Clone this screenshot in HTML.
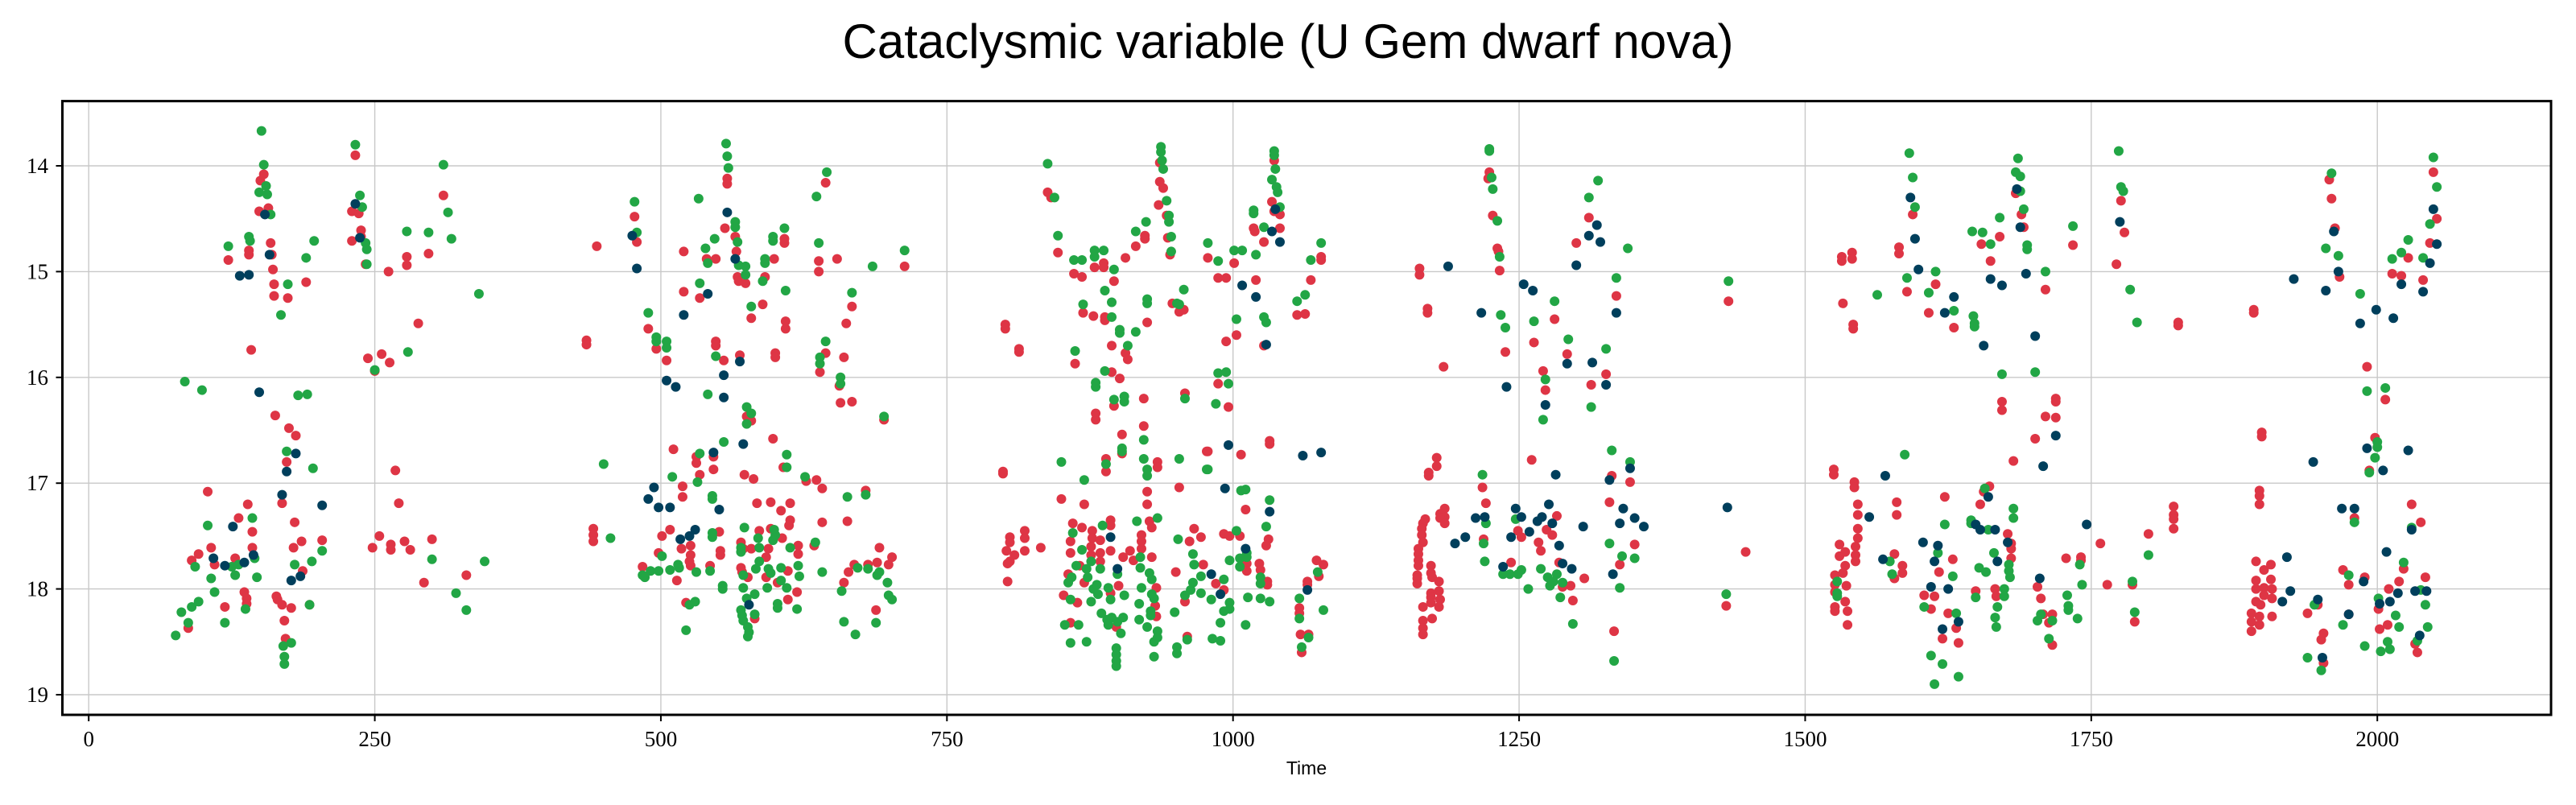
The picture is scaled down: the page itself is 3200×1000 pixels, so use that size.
<!DOCTYPE html>
<html><head><meta charset="utf-8">
<style>
html,body{margin:0;padding:0;background:#fff;}
svg{display:block;}
</style></head>
<body>
<svg id="chart" width="3200" height="1000" xmlns="http://www.w3.org/2000/svg">
<text x="1600" y="72" text-anchor="middle" font-family="Liberation Sans, sans-serif" font-size="60">Cataclysmic variable (U Gem dwarf nova)</text>
<g id="grid"></g>
<g id="marks"></g>
<rect x="77.5" y="125.6" width="3091.5" height="762.4" fill="none" stroke="#000" stroke-width="3"/>
<g id="axes"></g>
<text x="1623" y="962" text-anchor="middle" font-family="Liberation Sans, sans-serif" font-size="23">Time</text>
</svg>
<script>
const xTicks = [0,250,500,750,1000,1250,1500,1750,2000];
const xTickLabels = ["0","250","500","750","1000","1250","1500","1750","2000"];
const yTicks = [14,15,16,17,18,19];
const yTickLabels = ["14","15","16","17","18","19"];
const redPoints = [[90,17.73],[87,18.37],[96,17.67],[104,17.08],[107,17.61],[110,17.77],[119,18.17],[122,14.89],[128,17.71],[131,17.33],[136,18.03],[138,18.09],[138,18.14],[139,17.2],[140,14.8],[140,14.84],[142,15.74],[143,17.46],[143,17.61],[150,14.14],[149,14.43],[153,14.08],[157,14.4],[159,14.73],[160,14.84],[161,14.98],[162,15.12],[162,15.23],[163,16.36],[164,18.07],[165,18.1],[169,18.15],[169,17.19],[171,18.3],[172,18.47],[173,16.8],[174,15.25],[175,16.48],[177,18.18],[179,17.61],[180,17.37],[181,16.55],[186,17.55],[187,17.83],[190,15.1],[193,18.15],[204,17.54],[230,14.43],[233,13.9],[230,14.71],[236,14.45],[238,14.61],[238,14.67],[242,14.93],[244,15.82],[250,15.94],[254,17.5],[256,15.78],[248,17.61],[262,15.0],[263,15.86],[264,17.58],[264,17.63],[268,16.88],[271,17.19],[276,17.55],[278,14.86],[278,14.94],[281,17.63],[288,15.49],[293,17.94],[297,14.83],[300,17.53],[310,14.28],[330,17.87],
[435,15.65],[435,15.69],[441,17.43],[441,17.49],[441,17.55],[444,14.76],[477,14.48],[479,14.72],[484,17.79],
[489,15.54],[496,15.73],[505,15.84],[520,14.81],[520,15.19],[534,15.25],[540,14.88],[548,14.88],[548,15.66],[548,15.7],[556,14.59],[558,14.12],[558,14.17],[565,14.67],[566,14.81],[567,15.05],[568,15.09],[574,15.11],[579,15.44],[555,15.84],[569,15.79],[575,16.37],[579,16.41],[591,15.05],[589,15.31],[599,14.88],[608,14.69],[608,14.73],[609,15.47],[609,15.54],[600,15.77],[600,15.81],[644,14.16],[638,14.9],[638,15.0],[654,14.88],[667,15.33],[662,15.49],[644,15.77],[639,15.95],[660,15.81],[656,16.08],[657,16.24],[667,16.23],[713,14.95],[695,16.4],
[511,16.68],[531,16.75],[531,16.81],[546,16.75],[546,16.87],[598,16.58],[607,16.85],[573,16.92],[581,16.96],[519,17.03],[519,17.13],[534,16.92],[627,16.98],[636,16.97],[641,17.05],[679,17.07],[584,17.19],[596,17.18],[605,17.26],[613,17.19],[613,17.35],[612,17.4],[586,17.45],[596,17.43],[606,17.52],[641,17.37],[663,17.36],[508,17.44],[501,17.5],[551,17.46],[518,17.62],[526,17.59],[526,17.68],[525,17.74],[526,17.78],[552,17.64],[552,17.68],[498,17.66],[514,17.92],[543,17.78],[570,17.56],[572,17.62],[579,17.62],[594,17.62],[592,17.7],[592,17.89],[620,17.59],[620,17.67],[634,17.59],[611,17.83],[602,17.94],[576,17.89],[570,17.8],[571,17.84],[619,18.03],[660,17.94],[664,17.84],[669,17.77],[681,17.77],[689,17.75],[699,17.77],[702,17.7],[691,17.61],[522,18.13],[582,18.28],[611,18.1],[688,18.2],
[801,15.5],[801,15.54],[813,15.73],[813,15.76],[847,14.82],[838,14.25],[841,14.3],[861,15.02],[868,15.05],[879,14.96],[887,14.92],[887,14.96],[896,15.09],[869,15.39],[878,15.42],[888,15.43],[888,15.46],[894,15.7],[906,15.77],[908,15.83],[862,15.87],[894,15.95],[901,16.01],[880,16.34],[880,16.4],[896,16.27],[922,16.2],[922,16.46],[903,16.54],[903,16.72],[889,16.77],[889,16.89],[799,16.89],[799,16.91],[934,16.8],[934,16.85],[953,17.04],[850,17.15],[870,17.2],[925,17.08],[925,17.2],[915,14.76],[923,14.66],[923,14.69],[925,15.48],[906,14.87],[936,13.97],[936,14.15],[939,14.21],[935,14.37],[942,14.47],[943,14.68],[945,14.84],[947,15.3],[953,15.38],[957,15.36],[978,14.87],[958,16.15],[977,16.7],
[805,17.51],[805,17.56],[802,17.64],[809,17.68],[805,17.74],[803,17.76],[818,17.45],[818,17.52],[818,17.64],[832,17.61],[803,17.93],[860,17.38],[868,17.42],[858,17.55],[858,17.66],[877,17.45],[877,17.52],[876,17.6],[876,17.68],[884,17.54],[893,17.35],[893,17.4],[893,17.64],[884,17.66],[884,17.74],[866,17.78],[856,17.86],[870,17.94],[852,18.06],[864,18.13],[900,17.97],[893,18.04],[910,17.64],[904,17.7],[913,17.73],[920,17.62],[920,17.49],[920,17.55],[927,17.36],[929,17.42],[929,17.7],[933,17.99],[932,18.16],[933,18.26],[898,18.36],[858,18.32],[950,17.84],[966,17.43],[962,17.55],[972,17.51],[974,17.77],[958,18.12],[960,18.45],
[987,15.06],[994,15.06],[1001,14.92],[1020,15.08],[1018,14.59],[1019,14.62],[1027,14.72],[1041,14.59],[1041,14.46],[1034,14.34],[1036,14.43],[1036,13.95],[1027,15.7],[1003,15.6],[994,15.66],[987,16.06],[996,16.28],[978,16.7],[1007,16.73],[1032,16.6],[1032,16.63],[1056,15.41],[1063,15.4],[1068,15.08],[1077,14.86],[1077,14.89],
[1011,17.25],[1031,17.53],[1029,17.59],[992,17.48],[997,17.5],[1006,17.5],[1012,17.76],[1012,17.83],[1023,17.76],[1024,17.82],[1030,17.93],[1030,17.96],[985,17.95],[992,18.01],[1065,17.93],[1065,17.96],[1058,18.18],[1058,18.23],[1059,18.43],[1066,18.43],[1060,18.6],[1073,17.73],[1079,17.77],[1075,17.88],
[1163,14.97],[1163,15.03],[1170,15.35],[1170,15.39],[1184,15.9],[1224,14.06],[1223,14.12],[1227,14.47],[1231,14.78],[1232,14.81],[1233,14.99],[1238,15.76],[1263,15.67],[1271,15.94],[1273,16.12],[1281,15.45],[1292,15.78],[1300,14.73],[1311,14.49],[1335,15.23],[1326,15.97],[1313,16.07],[1433,15.28],
[1261,16.78],[1331,16.93],[1347,16.99],[1329,17.18],[1351,17.58],[1338,17.77],[1333,18.4],[1431,18.16],[1448,17.65],[1218,17.04],[1221,17.19],[1219,17.53],[1249,17.45],[1252,17.51],[1243,17.75],[1274,17.44],[1279,17.49],[1283,17.31],[1267,17.56],[1269,17.64],[1285,17.75],[1288,17.98],[1295,17.97],[1297,18.11],[1307,17.9],
[1178,16.76],[1178,16.84],[1171,16.9],[1171,16.93],[1185,17.24],[1181,17.29],[1185,17.32],[1181,17.33],[1185,17.38],[1168,17.34],[1166,17.38],[1165,17.43],[1165,17.49],[1166,17.56],[1162,17.62],[1162,17.67],[1162,17.73],[1162,17.78],[1161,17.87],[1161,17.9],[1161,17.95],[1173,17.78],[1173,17.85],[1174,17.89],[1180,17.93],[1180,18.02],[1173,18.04],[1173,18.08],[1181,18.1],[1173,18.13],[1180,18.17],[1166,18.17],[1174,18.28],[1166,18.3],[1166,18.37],[1166,18.43],
[1532,14.86],[1532,14.9],[1541,14.82],[1541,14.88],[1533,15.3],[1542,15.5],[1542,15.54],[1594,14.46],[1582,14.77],[1582,14.83],[1589,15.19],[1608,15.39],[1614,15.12],[1630,15.53],[1654,14.74],[1662,14.9],[1670,14.67],[1684,14.26],[1689,14.46],[1691,14.58],[1710,15.17],[1672,16.23],[1672,16.31],[1719,16.2],[1719,16.23],[1710,16.37],[1719,16.38],[1701,16.58],[1682,16.79],[1734,14.75],[1776,14.33],[1779,14.63],[1772,14.93],[1826,15.48],[1826,15.51],[1892,15.36],[1892,15.39],[1958,14.13],[1960,14.31],[1963,14.59],[1967,15.05],[2027,14.87],[2013,15.02],[2021,15.04],[2040,15.08],[2046,14.73],[2052,14.5],[2049,14.06],[1991,15.9],[2007,16.21],[1998,16.57],[1993,16.88],[1899,16.52],[1899,16.56],
[1525,16.87],[1525,16.92],[1543,16.99],[1543,17.04],[1580,17.18],[1580,17.3],[1546,17.2],[1546,17.3],[1546,17.43],[1546,17.52],[1544,17.6],[1544,17.68],[1544,17.74],[1530,17.58],[1530,17.69],[1535,17.65],[1535,17.78],[1533,17.85],[1526,17.87],[1526,17.96],[1536,17.97],[1526,18.03],[1535,18.12],[1526,18.17],[1526,18.21],[1537,18.21],[1537,18.34],[1578,17.67],[1585,17.78],[1585,17.85],[1578,17.9],[1622,17.13],[1629,17.72],[1617,17.84],[1604,18.06],[1613,18.07],[1610,18.19],[1625,18.23],[1632,18.37],[1620,18.47],[1634,18.51],[1653,17.2],[1656,17.08],[1661,17.03],[1649,18.02],[1666,18.0],[1667,18.07],[1677,17.48],[1680,17.57],[1680,17.62],[1680,17.71],[1703,17.98],[1706,18.09],[1708,18.24],[1713,18.32],[1716,18.24],[1716,18.53],[1728,17.71],[1741,17.7],[1741,17.73],[1758,17.57],[1764,17.96],[1786,17.96],[1788,18.31],[1800,17.48],[1822,17.22],[1822,17.3],[1822,17.34],[1822,17.43],
[1897,17.07],[1897,17.12],[1897,17.2],[1894,17.74],[1894,17.92],[1894,18.0],[1894,18.12],[1890,18.23],[1890,18.31],[1890,18.4],[1901,17.82],[1907,17.77],[1907,17.91],[1901,17.99],[1908,18.0],[1901,18.06],[1908,18.09],[1898,18.15],[1897,18.26],[1897,18.34],[1908,18.26],[1939,18.23],[1948,18.15],[1951,18.48],[1953,18.42],[1953,18.7],[1980,17.33],[1970,17.82],[1975,17.96],[1989,17.89],[1975,18.24],[2023,17.81],[2019,17.93],[2010,18.0],[2001,18.19],[2009,18.34],[2002,18.38],[2033,18.52],[2035,18.6],[2042,17.89],[2030,17.2],[2038,17.37]];
const greenPoints = [[76,18.44],[81,18.22],[84,16.04],[87,18.32],[90,18.17],[93,17.79],[96,18.12],[99,16.12],[104,17.4],[107,17.9],[110,18.03],[119,18.32],[122,14.76],[125,17.79],[128,17.87],[131,17.77],[137,18.19],[140,14.67],[141,14.71],[143,17.33],[145,17.71],[147,17.89],[149,14.25],[151,13.67],[153,13.99],[155,14.19],[156,14.27],[159,14.46],[168,15.41],[170,18.54],[171,18.64],[171,18.71],[173,16.7],[174,15.12],[177,18.51],[180,17.77],[183,16.17],[190,14.87],[191,16.16],[193,18.15],[195,17.74],[196,16.86],[197,14.71],[204,17.64],[233,13.8],[237,14.28],[239,14.39],[242,14.73],[243,14.79],[243,14.93],[250,15.93],[279,15.76],[278,14.62],[297,14.63],[300,17.72],[310,13.99],[314,14.44],[317,14.69],[321,18.04],[330,18.2],[341,15.21],[346,17.74],
[450,16.82],[456,17.52],[477,14.34],[479,14.63],[484,17.87],
[489,15.39],[496,15.62],[496,15.66],[505,15.66],[505,15.72],[533,14.31],[534,15.11],[539,14.78],[547,14.69],[541,14.92],[548,15.8],[541,16.16],[557,13.79],[558,13.91],[559,14.02],[565,14.53],[565,14.58],[567,14.72],[568,14.94],[574,14.95],[574,15.03],[579,15.33],[575,16.28],[579,16.34],[575,16.44],[589,15.09],[591,14.88],[591,14.92],[598,14.67],[598,14.71],[608,14.59],[609,15.18],[638,14.73],[636,14.29],[645,14.06],[667,15.2],[644,15.66],[639,15.81],[639,15.87],[657,16.0],[657,16.06],[685,14.95],[713,14.8],[695,16.37],
[534,16.72],[555,16.61],[610,16.73],[610,16.85],[510,16.94],[532,16.99],[545,17.12],[545,17.15],[626,16.94],[663,17.13],[679,17.11],[573,17.42],[599,17.44],[600,17.49],[598,17.54],[585,17.52],[545,17.47],[545,17.51],[501,17.69],[486,17.89],[491,17.83],[498,17.83],[508,17.82],[515,17.77],[516,17.8],[531,17.84],[543,17.83],[570,17.61],[570,17.65],[586,17.61],[586,17.74],[594,17.81],[596,17.85],[613,17.61],[635,17.56],[620,17.78],[621,17.88],[605,17.8],[605,17.92],[583,17.81],[572,17.87],[641,17.84],[554,17.97],[554,18.0],[572,17.99],[593,17.99],[610,17.99],[658,18.02],[672,17.8],[681,17.81],[691,17.84],[689,17.87],[698,17.94],[699,18.06],[702,18.1],[525,18.15],[530,18.12],[582,18.05],[575,18.09],[570,18.2],[571,18.25],[572,18.3],[582,18.24],[602,18.14],[602,18.18],[619,18.19],[522,18.39],[576,18.36],[577,18.41],[576,18.45],[660,18.31],[688,18.32],[670,18.43],
[847,14.66],[838,13.98],[844,14.3],[861,14.89],[868,14.89],[879,14.8],[879,14.86],[887,14.8],[896,14.98],[888,15.18],[894,15.29],[869,15.31],[894,15.43],[901,15.55],[901,15.58],[915,15.57],[908,15.7],[862,15.75],[888,15.94],[880,16.05],[880,16.09],[896,16.21],[905,16.18],[905,16.23],[903,16.67],[903,16.7],[922,16.59],[922,16.77],[925,16.87],[925,16.93],[953,16.77],[850,16.8],[889,16.82],[870,16.97],[915,14.62],[924,14.53],[925,15.26],[925,15.3],[937,13.82],[937,13.87],[938,13.95],[939,14.03],[942,14.33],[944,14.47],[944,14.53],[946,14.67],[946,14.81],[957,15.17],[951,15.3],[953,15.31],[978,14.73],[958,16.2],[977,16.87],
[860,17.47],[868,17.63],[886,17.4],[884,17.81],[876,17.74],[872,17.81],[863,17.78],[859,17.89],[856,17.94],[873,17.89],[878,18.0],[881,17.96],[882,18.05],[876,18.12],[858,18.1],[891,17.99],[899,17.86],[893,18.1],[905,18.06],[916,17.36],[934,17.33],[919,17.7],[919,17.8],[927,17.85],[929,17.91],[920,17.99],[918,18.14],[929,18.05],[931,18.09],[928,18.21],[928,18.25],[885,18.23],[890,18.29],[894,18.27],[899,18.31],[904,18.27],[902,18.42],[891,18.34],[853,18.34],[865,18.34],[858,18.51],[872,18.5],[898,18.56],[898,18.62],[898,18.68],[898,18.73],[918,18.29],[925,18.36],[934,18.4],[934,18.46],[931,18.5],[931,18.64],[952,17.53],[965,17.67],[966,17.77],[972,17.88],[965,17.94],[963,18.01],[972,18.04],[958,18.06],[949,18.22],[951,18.55],[951,18.61],[960,18.48],
[987,14.9],[1001,14.8],[1008,14.8],[1020,14.84],[1018,14.42],[1018,14.45],[1027,14.58],[1041,14.39],[1039,14.25],[1038,14.2],[1034,14.13],[1036,13.86],[1036,13.9],[1037,14.03],[1027,15.43],[1029,15.48],[1003,15.45],[987,15.96],[994,15.95],[996,16.06],[985,16.25],[978,16.87],[1056,15.28],[1063,15.22],[1068,14.89],[1077,14.73],
[1007,17.07],[1011,17.06],[1032,17.16],[1029,17.41],[1003,17.45],[1012,17.66],[1012,17.7],[1006,17.71],[1006,17.79],[1024,17.89],[1024,17.95],[997,17.73],[992,17.91],[981,18.1],[997,18.13],[997,18.19],[992,18.21],[989,18.32],[982,18.47],[989,18.49],[1013,18.08],[1024,18.09],[1032,18.12],[1011,18.34],[1058,18.09],[1058,18.28],[1066,18.46],[1060,18.55],[1074,17.84],[1079,18.2],
[1224,13.84],[1224,13.86],[1226,14.11],[1227,14.22],[1231,14.52],[1233,14.86],[1234,15.41],[1238,15.53],[1263,15.47],[1273,16.02],[1271,16.4],[1281,15.28],[1293,15.64],[1311,14.3],[1319,14.14],[1345,14.78],[1335,15.06],[1326,15.73],[1313,16.28],[1433,15.09],
[1331,16.69],[1347,16.8],[1329,17.57],[1340,17.69],[1351,17.71],[1338,17.99],[1333,18.68],[1431,18.05],[1218,16.92],[1221,17.38],[1219,17.57],[1220,17.74],[1247,17.34],[1236,17.86],[1242,17.86],[1249,17.86],[1252,17.82],[1258,18.0],[1269,17.81],[1275,17.89],[1277,17.97],[1283,17.86],[1280,17.93],[1288,17.94],[1286,18.08],[1297,18.33],
[1563,15.22],[1591,13.88],[1594,14.11],[1596,14.39],[1589,15.06],[1608,15.2],[1614,15.0],[1630,15.37],[1647,15.42],[1648,15.49],[1648,15.52],[1646,14.62],[1655,14.63],[1662,14.74],[1670,14.49],[1684,14.06],[1686,13.93],[1688,14.1],[1688,14.24],[1691,14.41],[1694,14.75],[1694,14.79],[1710,15.0],[1672,15.97],[1701,15.95],[1734,14.57],[1774,13.86],[1776,14.2],[1778,14.24],[1784,15.17],[1790,15.48],[1960,14.07],[1955,14.78],[1966,14.85],[1985,15.21],[2013,14.88],[2021,14.82],[2027,14.7],[2040,14.87],[2046,14.55],[2052,14.2],[2049,13.92],[1991,16.13],[2007,16.1],[2000,16.61],[2000,16.66],[1998,16.76],[1993,16.9],
[1587,16.73],[1528,17.93],[1528,18.04],[1528,18.07],[1574,17.74],[1576,17.86],[1622,17.39],[1616,17.66],[1629,17.88],[1604,18.17],[1632,18.23],[1610,18.63],[1620,18.71],[1634,18.83],[1613,18.9],[1645,17.35],[1645,17.38],[1657,17.05],[1660,17.44],[1665,17.66],[1652,17.8],[1658,17.84],[1649,18.08],[1674,18.0],[1674,18.07],[1668,18.17],[1666,18.27],[1667,18.36],[1678,17.77],[1678,17.83],[1679,17.89],[1682,17.24],[1682,17.33],[1706,18.24],[1703,18.3],[1716,18.3],[1713,18.47],[1740,17.77],[1742,17.96],[1729,18.06],[1730,18.16],[1730,18.2],[1738,18.28],[1786,17.93],[1788,18.22],[1800,17.68],
[1945,18.15],[1939,18.65],[1951,18.77],[1980,17.37],[1975,17.87],[1970,18.34],[1989,18.54],[2023,17.75],[2001,18.09],[2016,18.25],[2019,18.36],[2009,18.5],[2011,18.57],[2003,18.59],[2035,18.49],[2038,18.01],[2042,18.15],[2044,18.36],[2030,17.42]];
const navyPoints = [[109,17.71],[119,17.78],[126,17.41],[132,15.04],[136,17.75],[140,15.03],[144,17.68],[149,16.14],[154,14.46],[158,14.84],[169,17.11],[173,16.89],[177,17.92],[181,16.72],[185,17.88],[204,17.21],[233,14.36],[237,14.68],[475,14.66],[479,14.97],
[505,16.03],[513,16.09],[520,15.41],[541,15.21],[555,15.98],[555,16.19],[558,14.44],[565,14.88],[569,15.85],[546,16.71],[572,16.63],[494,17.04],[489,17.15],[498,17.23],[508,17.23],[551,17.25],[517,17.53],[525,17.5],[530,17.44],[577,18.15],
[893,17.51],[899,17.81],
[1008,15.13],[1020,15.24],[1034,14.62],[1037,14.41],[1041,14.72],[1029,15.69],[996,16.64],[1061,16.74],[1077,16.71],[993,17.05],[1032,17.27],[1011,17.62],[981,17.86],[989,18.05],[1065,18.01],
[1188,14.95],[1217,15.39],[1239,16.09],[1254,15.12],[1262,15.18],[1273,16.26],[1292,15.87],[1300,14.94],[1311,14.66],[1318,14.56],[1321,14.72],[1335,15.39],[1326,16.07],[1314,15.86],[1282,16.92],[1347,16.86],[1329,16.97],[1341,17.24],[1351,17.33],[1359,17.41],[1338,17.38],[1332,17.86],[1432,17.23],[1220,17.32],[1212,17.33],[1203,17.51],[1194,17.57],[1236,17.79],[1247,17.24],[1252,17.32],[1259,17.46],[1243,17.51],[1266,17.36],[1270,17.32],[1276,17.2],[1279,17.38],[1285,17.59],[1288,17.76],[1296,17.81],[1306,17.41],
[1592,14.3],[1596,14.69],[1599,14.98],[1622,15.39],[1630,15.24],[1656,15.7],[1662,15.07],[1672,15.13],[1685,14.22],[1688,14.58],[1693,15.02],[1701,15.61],[1719,16.55],[1708,16.84],[1775,14.53],[1927,15.07],[1962,14.62],[1966,15.0],[1955,15.18],[1985,15.49],[1999,15.36],[2014,15.44],[2021,15.12],[2040,15.19],[2046,14.92],[2052,14.74],[2049,14.41],[1991,16.67],[2005,16.88],[2027,16.69],[1944,16.8],
[1570,16.93],[1556,17.32],[1568,17.72],[1603,17.56],[1616,17.59],[1613,17.74],[1610,17.98],[1625,18.0],[1620,18.38],[1634,18.31],[1649,17.39],[1653,17.44],[1660,17.13],[1666,17.44],[1668,17.74],[1677,17.56],[1705,17.9],[1746,17.39],[1921,17.7],[1924,18.02],[1917,18.12],[1948,18.1],[1952,18.65],[1969,17.24],[1980,17.24],[1988,17.93],[1975,18.24],[2008,17.65],[2018,18.04],[2011,18.12],[2002,18.14],[2037,18.44],[2033,18.02],[2043,18.02],[2030,17.44]];

const NS = "http://www.w3.org/2000/svg";
const X0 = 110.2, XS = 1.4215;
const Y0 = 206, YS = 131.4;
function xScale(t){ return X0 + t*XS; }
function yScale(m){ return Y0 + (m-14)*YS; }
const grid = document.getElementById('grid');
const axes = document.getElementById('axes');
const marks = document.getElementById('marks');

xTicks.forEach((v,i)=>{
  const x = xScale(v);
  const gl = document.createElementNS(NS,'line');
  gl.setAttribute('x1',x); gl.setAttribute('x2',x); gl.setAttribute('y1',125.6); gl.setAttribute('y2',888);
  gl.setAttribute('stroke','#c8c8c8'); gl.setAttribute('stroke-width','1.4');
  
  
  grid.appendChild(gl);
  const tk = document.createElementNS(NS,'line');
  tk.setAttribute('x1',x); tk.setAttribute('x2',x); tk.setAttribute('y1',888); tk.setAttribute('y2',896);
  tk.setAttribute('stroke','#000'); tk.setAttribute('stroke-width','2');
  
  
  axes.appendChild(tk);
  const tl = document.createElementNS(NS,'text');
  tl.setAttribute('x',x); tl.setAttribute('y',927); tl.setAttribute('text-anchor','middle');
  tl.setAttribute('font-family','Liberation Serif, serif'); tl.setAttribute('font-size','27');
  tl.textContent = xTickLabels[i];
  
  
  axes.appendChild(tl);
});
yTicks.forEach((v,i)=>{
  const y = yScale(v);
  const gl = document.createElementNS(NS,'line');
  gl.setAttribute('x1',77.5); gl.setAttribute('x2',3169); gl.setAttribute('y1',y); gl.setAttribute('y2',y);
  gl.setAttribute('stroke','#c8c8c8'); gl.setAttribute('stroke-width','1.4');
  
  
  grid.appendChild(gl);
  const tk = document.createElementNS(NS,'line');
  tk.setAttribute('x1',69.5); tk.setAttribute('x2',77.5); tk.setAttribute('y1',y); tk.setAttribute('y2',y);
  tk.setAttribute('stroke','#000'); tk.setAttribute('stroke-width','2');
  
  
  axes.appendChild(tk);
  const tl = document.createElementNS(NS,'text');
  tl.setAttribute('x',60); tl.setAttribute('y',y+9); tl.setAttribute('text-anchor','end');
  tl.setAttribute('font-family','Liberation Serif, serif'); tl.setAttribute('font-size','27');
  tl.textContent = yTickLabels[i];
  
  
  axes.appendChild(tl);
});
function drawSeries(points, color, name){
  points.forEach(p=>{
    const c = document.createElementNS(NS,'circle');
    c.setAttribute('cx', xScale(p[0]));
    c.setAttribute('cy', yScale(p[1]));
    c.setAttribute('r', 6);
    c.setAttribute('fill', color);
    
    
    marks.appendChild(c);
  });
}
drawSeries(redPoints, '#de3545', 'red-point');
drawSeries(greenPoints, '#22a645', 'green-point');
drawSeries(navyPoints, '#003f5c', 'navy-point');
</script>
</body></html>
